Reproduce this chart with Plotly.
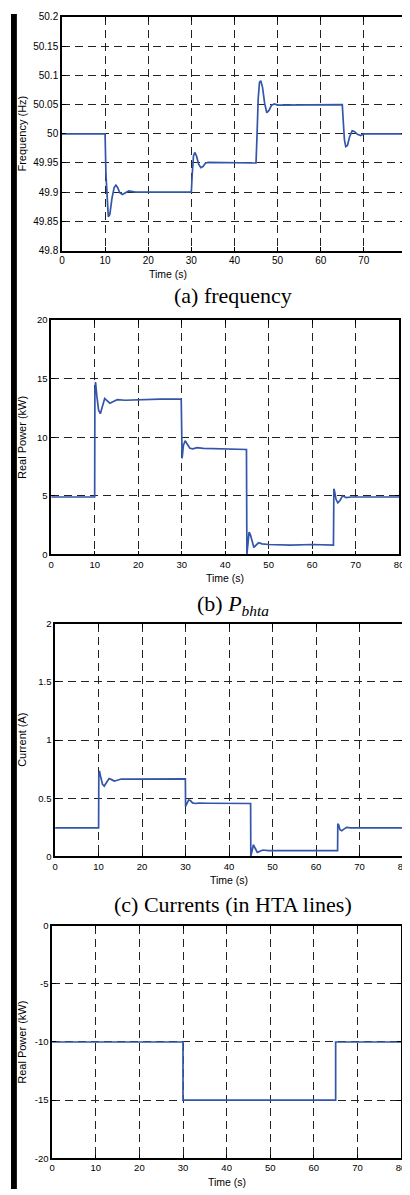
import plotly.graph_objects as go

# ---------------- data ----------------
# (a) frequency
t_freq = [0, 10, 10.2, 10.5, 10.75, 11.1, 11.6, 12.1, 12.5, 12.9, 13.4, 14.0, 14.7, 15.5, 17,
          30, 30.2, 30.5, 30.8, 31.2, 31.7, 32.2, 32.7, 33.3, 34,
          45, 45.2, 45.5, 45.8, 46.1, 46.5, 47.0, 47.5, 48.0, 48.6, 49.3, 50,
          65, 65.2, 65.5, 65.8, 66.2, 66.7, 67.3, 67.8, 68.5, 69.3, 70, 80]
freq = [50, 50, 49.93, 49.875, 49.858, 49.862, 49.89, 49.908, 49.912, 49.908, 49.899, 49.896, 49.899, 49.902, 49.9,
        49.9, 49.93, 49.962, 49.968, 49.962, 49.948, 49.942, 49.944, 49.95, 49.951,
        49.95, 49.99, 50.06, 50.088, 50.091, 50.08, 50.052, 50.036, 50.04, 50.049, 50.051, 50.049,
        50.05, 50.025, 49.99, 49.978, 49.98, 49.995, 50.005, 50.004, 49.999, 49.997, 50, 50]

# (b) P_bhta
t_pb = [0, 10, 10.05, 10.2, 10.5, 10.9, 11.3, 11.8, 12.3, 12.9, 13.5, 14.3, 15.2, 17, 20, 25, 29.9,
        30, 30.1, 30.4, 30.8, 31.3, 31.9, 32.6, 33.5, 35, 40, 44.9,
        45, 45.15, 45.5, 45.8, 46.2, 46.6, 47.1, 47.7, 48.5, 50, 55, 60, 64.9,
        65, 65.15, 65.5, 65.9, 66.4, 67.0, 67.8, 69, 75, 80]
p_bhta = [4.9, 4.9, 14.0, 14.7, 13.5, 12.3, 12.0, 12.6, 13.3, 13.1, 12.9, 13.05, 13.2, 13.15, 13.2, 13.25, 13.25,
          8.3, 8.2, 9.3, 9.7, 9.4, 9.05, 9.0, 9.1, 9.05, 9.0, 8.95,
          0.0, 0.5, 1.9, 1.7, 1.0, 0.6, 0.8, 1.0, 0.9, 0.85, 0.8, 0.85, 0.8,
          5.6, 5.4, 4.7, 4.4, 4.6, 5.0, 4.85, 4.9, 4.9, 4.9]

# (c) currents
t_cur = [0, 10, 10.05, 10.2, 10.5, 10.9, 11.3, 11.8, 12.4, 13.0, 13.6, 14.3, 15.2, 17, 25, 29.95,
         30, 30.3, 30.7, 31.1, 31.6, 32.2, 33, 35, 44.95,
         45, 45.3, 45.6, 46.0, 46.5, 47.1, 47.8, 49, 55, 64.95,
         65, 65.2, 65.5, 65.9, 66.4, 67, 68, 72, 80]
current = [0.245, 0.245, 0.70, 0.735, 0.68, 0.62, 0.605, 0.63, 0.67, 0.66, 0.648, 0.655, 0.665, 0.664, 0.666, 0.666,
           0.43, 0.45, 0.485, 0.48, 0.46, 0.455, 0.458, 0.457, 0.455,
           0.0, 0.05, 0.1, 0.07, 0.035, 0.045, 0.055, 0.05, 0.048, 0.05,
           0.28, 0.27, 0.23, 0.22, 0.235, 0.25, 0.245, 0.245, 0.245]

# (d) real power
t_pd = [0, 30, 30, 65, 65, 80]
p_d = [-10, -10, -15, -15, -10, -10]

x_ticks = [0, 10, 20, 30, 40, 50, 60, 70, 80]
freq_ticks = [49.8, 49.85, 49.9, 49.95, 50, 50.05, 50.1, 50.15, 50.2]
freq_ticktext = ["49.8", "49.85", "49.9", "49.95", "50", "50.05", "50.1", "50.15", "50.2"]
pb_ticks = [0, 5, 10, 15, 20]
cur_ticks = [0, 0.5, 1, 1.5, 2]
cur_ticktext = ["0", "0.5", "1", "1.5", "2"]
pd_ticks = [-20, -15, -10, -5, 0]

captions = ["(a) frequency", "(b) <i>P</i><sub><i>bhta</i></sub>", "(c) Currents (in HTA lines)"]
ytitles = ["Frequency (Hz)", "Real Power (kW)", "Current (A)", "Real Power (kW)"]

# ---------------- layout ----------------
# the page body has an 8px margin, so the figure starts at page (8, 8)
OFF = 8
W, H = 410 - OFF, 1195 - OFF
line_color = "#3356a8"
sans = "Liberation Sans, Arial, sans-serif"
serif = "Liberation Serif, Times New Roman, serif"

def fy(px):
    return 1 - (px - OFF) / H

def fx(px):
    return (px - OFF) / W

panels = [
    dict(x=(60, 410), y=(11, 247), xr=[0, 80 * 350 / 352], yr=[49.8, 50.2], yt=freq_ticks, ytt=freq_ticktext,
         fs=10, tx=168, cap=45),
    dict(x=(49, 404), y=(317, 554), xr=[0, 80], yr=[0, 20], yt=pb_ticks, ytt=[str(v) for v in pb_ticks],
         fs=9.5, tx=None, cap=51),
    dict(x=(53, 408), y=(624, 859), xr=[0, 80], yr=[0, 2], yt=cur_ticks, ytt=cur_ticktext,
         fs=9.5, tx=None, cap=49),
    dict(x=(50, 406), y=(929, 1164), xr=[0, 80], yr=[-20, 0], yt=pd_ticks, ytt=[str(v) for v in pd_ticks],
         fs=9.5, tx=None, cap=None),
]
series = [(t_freq, freq), (t_pb, p_bhta), (t_cur, current), (t_pd, p_d)]

fig = go.Figure()
layout = dict(width=W, height=H, margin=dict(l=0, r=0, t=0, b=0, pad=0), autosize=False,
              paper_bgcolor="white", plot_bgcolor="white", showlegend=False)
annotations = []
for i, (p, (tx, ty)) in enumerate(zip(panels, series)):
    n = "" if i == 0 else str(i + 1)
    fig.add_trace(go.Scatter(x=tx, y=ty, mode="lines", line=dict(color=line_color, width=1.7),
                             xaxis="x" + n, yaxis="y" + n, hoverinfo="skip"))
    common = dict(showline=True, linecolor="black", linewidth=1.5, mirror="ticks",
                  ticks="inside", ticklen=4, tickcolor="black", tickwidth=1,
                  showgrid=True, gridcolor="#222222", griddash="8px,5px", gridwidth=1,
                  zeroline=False, tickfont=dict(family=sans, size=p["fs"], color="black"))
    layout["xaxis" + n] = dict(domain=[fx(p["x"][0]), min(1, fx(p["x"][1]))], range=p["xr"],
                               anchor="y" + n, tickvals=x_ticks, ticktext=[str(v) for v in x_ticks],
                               **common)
    layout["yaxis" + n] = dict(domain=[fy(p["y"][1]), fy(p["y"][0])], range=p["yr"],
                               anchor="x" + n, tickvals=p["yt"], ticktext=p["ytt"], **common)
    # y title
    annotations.append(dict(text=ytitles[i], xref="paper", yref="paper", x=fx(19),
                            y=fy((p["y"][0] + p["y"][1]) / 2), textangle=-90, showarrow=False,
                            font=dict(family=sans, size=11, color="black"), xanchor="center", yanchor="middle"))
    # x title
    xc = p["tx"] if p["tx"] is not None else (p["x"][0] + p["x"][1]) / 2
    annotations.append(dict(text="Time (s)", xref="paper", yref="paper",
                            x=fx(xc), y=fy(p["y"][1] + 24),
                            showarrow=False, font=dict(family=sans, size=10.5, color="black"),
                            xanchor="center", yanchor="middle"))
    if p["cap"] is not None:
        annotations.append(dict(text=captions[i], xref="paper", yref="paper", x=fx(234),
                                y=fy(p["y"][1] + p["cap"]), showarrow=False,
                                font=dict(family=serif, size=22, color="black"),
                                xanchor="center", yanchor="middle"))

layout["annotations"] = annotations
layout["shapes"] = [dict(type="rect", xref="paper", yref="paper", x0=fx(8), x1=fx(14), y0=0, y1=1,
                         fillcolor="black", line=dict(width=0), layer="above")]
fig.update_layout(**layout)
fig.write_html("out.html")
